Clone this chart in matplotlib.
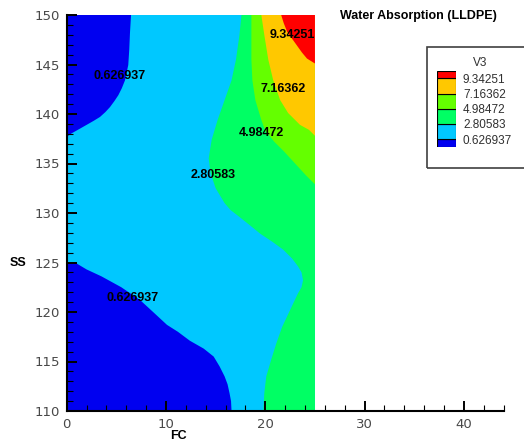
import matplotlib
matplotlib.use("Agg")
import matplotlib.pyplot as plt
from matplotlib.patches import Rectangle
from matplotlib.ticker import MultipleLocator

# contour levels of V3 and the fill colour of each band (lowest band first)
LEVELS = [0.626937, 2.80583, 4.98472, 7.16362, 9.34251]
COLORS = ["#0000f0", "#00c8ff", "#00ff64", "#64ff00", "#ffc800", "#ff0000"]
FC_RANGE = [0, 25]
SS_RANGE = [110, 150]

# iso-lines: FC position where V3 crosses a level, per SS
BLUE_TOP_SS = [137.7, 138.05, 138.5, 138.9, 139.3, 139.7, 140.2, 140.7, 141.3, 141.9,
               142.6, 143.4, 144.95, 146.5, 148.15, 150]
BLUE_TOP_FC = [0.0, 0.5, 1.3, 2.0, 2.7, 3.35, 3.9, 4.36, 4.8, 5.2,
               5.55, 5.87, 6.2, 6.3, 6.37, 6.48]

BLUE_LOW_SS = [110, 111.0, 111.8, 112.7, 113.5, 114.5, 115.5, 116.3, 117.1, 118.0,
               118.7, 120.0, 121.2, 122.5, 123.6, 124.3, 124.9, 125]
BLUE_LOW_FC = [16.6, 16.55, 16.4, 16.2, 15.9, 15.4, 14.8, 13.8, 12.4, 11.2,
               10.1, 8.7, 7.4, 5.5, 3.5, 2.0, 1.0, 0.0]

GREEN_SS = [110, 111.8, 113.5, 115.2, 116.8, 118.5, 120.2, 121.9, 122.5, 123.2, 124.0,
            124.6, 125.4, 126.3, 127.1, 127.9, 128.8, 129.6, 130.3, 131.0, 132.5,
            134.0, 135.5, 137.4, 139.4, 141.4, 143.4, 145.5, 148.0, 150]
GREEN_FC = [19.8, 19.9, 20.1, 20.6, 21.1, 21.7, 22.5, 23.3, 23.65, 23.8, 23.65,
            23.3, 22.7, 21.8, 20.7, 19.5, 18.4, 17.4, 16.5, 15.9, 15.0,
            14.5, 14.3, 14.6, 15.2, 15.9, 16.6, 17.05, 17.4, 17.6]

YGREEN_SS = [132.9, 133.8, 135.0, 136.2, 137.2, 138.3, 139.4, 141.4, 143.4, 145.5, 150]
YGREEN_FC = [25.0, 24.1, 23.0, 21.9, 20.9, 20.0, 19.6, 19.0, 18.7, 18.6, 18.6]

ORANGE_SS = [137.8, 138.4, 138.9, 140.1, 141.4, 143.4, 145.5, 148.0, 150]
ORANGE_FC = [25.0, 24.4, 23.5, 22.3, 21.5, 20.8, 20.3, 19.9, 19.6]

RED_SS = [145.1, 145.6, 146.2, 146.9, 147.6, 148.3, 149.2, 150]
RED_FC = [25.0, 24.2, 23.7, 23.2, 22.7, 22.2, 21.85, 21.6]

# contour labels: level index and position
LABEL_LEVEL = [4, 0, 3, 2, 1, 0]
LABEL_FC = [22.7, 5.3, 21.75, 19.6, 14.8, 6.6]
LABEL_SS = [148.0, 143.8, 142.5, 138.1, 133.8, 121.4]

W, H = 524, 445


def fx(px):
    return px / W


def fy(py):
    return 1 - py / H


def fill_right(ax, fc, ss, color):
    xs = fc + [FC_RANGE[1], FC_RANGE[1]]
    ys = ss + [ss[-1], ss[0]]
    ax.fill(xs, ys, color=color, lw=0, zorder=1)


def fill_left(ax, fc, ss, color):
    xs = fc + [FC_RANGE[0], FC_RANGE[0]]
    ys = ss + [ss[-1], ss[0]]
    ax.fill(xs, ys, color=color, lw=0, zorder=1)


fig = plt.figure(figsize=(W / 100, H / 100), dpi=100)
ax = fig.add_axes([fx(66.7), fy(411), fx(503.6) - fx(66.7), fy(15) - fy(411)])

# background band, then the iso-regions on top
ax.fill([FC_RANGE[0], FC_RANGE[1], FC_RANGE[1], FC_RANGE[0]],
        [SS_RANGE[0], SS_RANGE[0], SS_RANGE[1], SS_RANGE[1]],
        color=COLORS[1], lw=0, zorder=0.5)
fill_left(ax, BLUE_TOP_FC, BLUE_TOP_SS, COLORS[0])
fill_left(ax, BLUE_LOW_FC, BLUE_LOW_SS, COLORS[0])
fill_right(ax, GREEN_FC, GREEN_SS, COLORS[2])
fill_right(ax, YGREEN_FC, YGREEN_SS, COLORS[3])
fill_right(ax, ORANGE_FC, ORANGE_SS, COLORS[4])
fill_right(ax, RED_FC, RED_SS, COLORS[5])

clip = Rectangle((FC_RANGE[0], SS_RANGE[0]), FC_RANGE[1] - FC_RANGE[0],
                 SS_RANGE[1] - SS_RANGE[0], transform=ax.transData)
for i, x, y in zip(LABEL_LEVEL, LABEL_FC, LABEL_SS):
    t = ax.text(x, y, f"{LEVELS[i]:g}", ha="center", va="center",
                fontsize=9, fontweight="bold", family="Liberation Sans", zorder=3)
    t.set_clip_path(clip)

ax.set_xlim(0, 44)
ax.set_ylim(*SS_RANGE)
ax.xaxis.set_major_locator(MultipleLocator(10))
ax.xaxis.set_minor_locator(MultipleLocator(2))
ax.yaxis.set_major_locator(MultipleLocator(5))
ax.yaxis.set_minor_locator(MultipleLocator(1))
for s in ["top", "right"]:
    ax.spines[s].set_visible(False)
for s in ["left", "bottom"]:
    ax.spines[s].set_linewidth(1.5)
ax.tick_params(which="major", direction="in", length=7, width=1.4,
               labelsize=9.5, labelcolor="#484848", pad=5)
ax.tick_params(which="minor", direction="in", length=4, width=0.8)
ax.patch.set_alpha(0)

fig.text(fx(18.5), fy(263), "SS", ha="center", va="center", fontsize=9,
         fontweight="bold", family="Liberation Sans")
fig.text(fx(178.7), fy(436), "FC", ha="center", va="center", fontsize=9,
         fontweight="bold", family="Liberation Sans")
fig.text(fx(418.7), fy(16), "Water Absorption (LLDPE)", ha="center", va="center",
         fontsize=9, fontweight="bold", family="Liberation Sans")

# legend box
fig.add_artist(Rectangle((fx(427.3), fy(168.3)), fx(530) - fx(427.3), fy(47.3) - fy(168.3),
                         transform=fig.transFigure, fill=False, ec="#404040", lw=1.2))
fig.text(fx(480), fy(62.7), "V3", ha="center", va="center", fontsize=8.5,
         family="Liberation Sans", color="#303030")
lax = fig.add_axes([fx(436.7), fy(146.7), fx(456) - fx(436.7), fy(70.7) - fy(146.7)])
bottoms = [0, 0.5, 1.5, 2.5, 3.5, 4.5]
heights = [0.5, 1, 1, 1, 1, 0.5]
lax.bar([0] * 6, heights, bottom=bottoms, width=1, color=COLORS,
        edgecolor="black", linewidth=0.8)
lax.set_xlim(-0.5, 0.5)
lax.set_ylim(0, 5)
lax.set_xticks([])
lax.set_yticks([b + h for b, h in zip(bottoms[:-1], heights[:-1])])
lax.set_yticklabels([f"{v:g}" for v in LEVELS], family="Liberation Sans",
                    fontsize=8.5, color="#303030")
lax.yaxis.tick_right()
lax.tick_params(axis="y", length=0, pad=5)
for s in lax.spines.values():
    s.set_visible(False)

fig.savefig("out.png", dpi=100)
